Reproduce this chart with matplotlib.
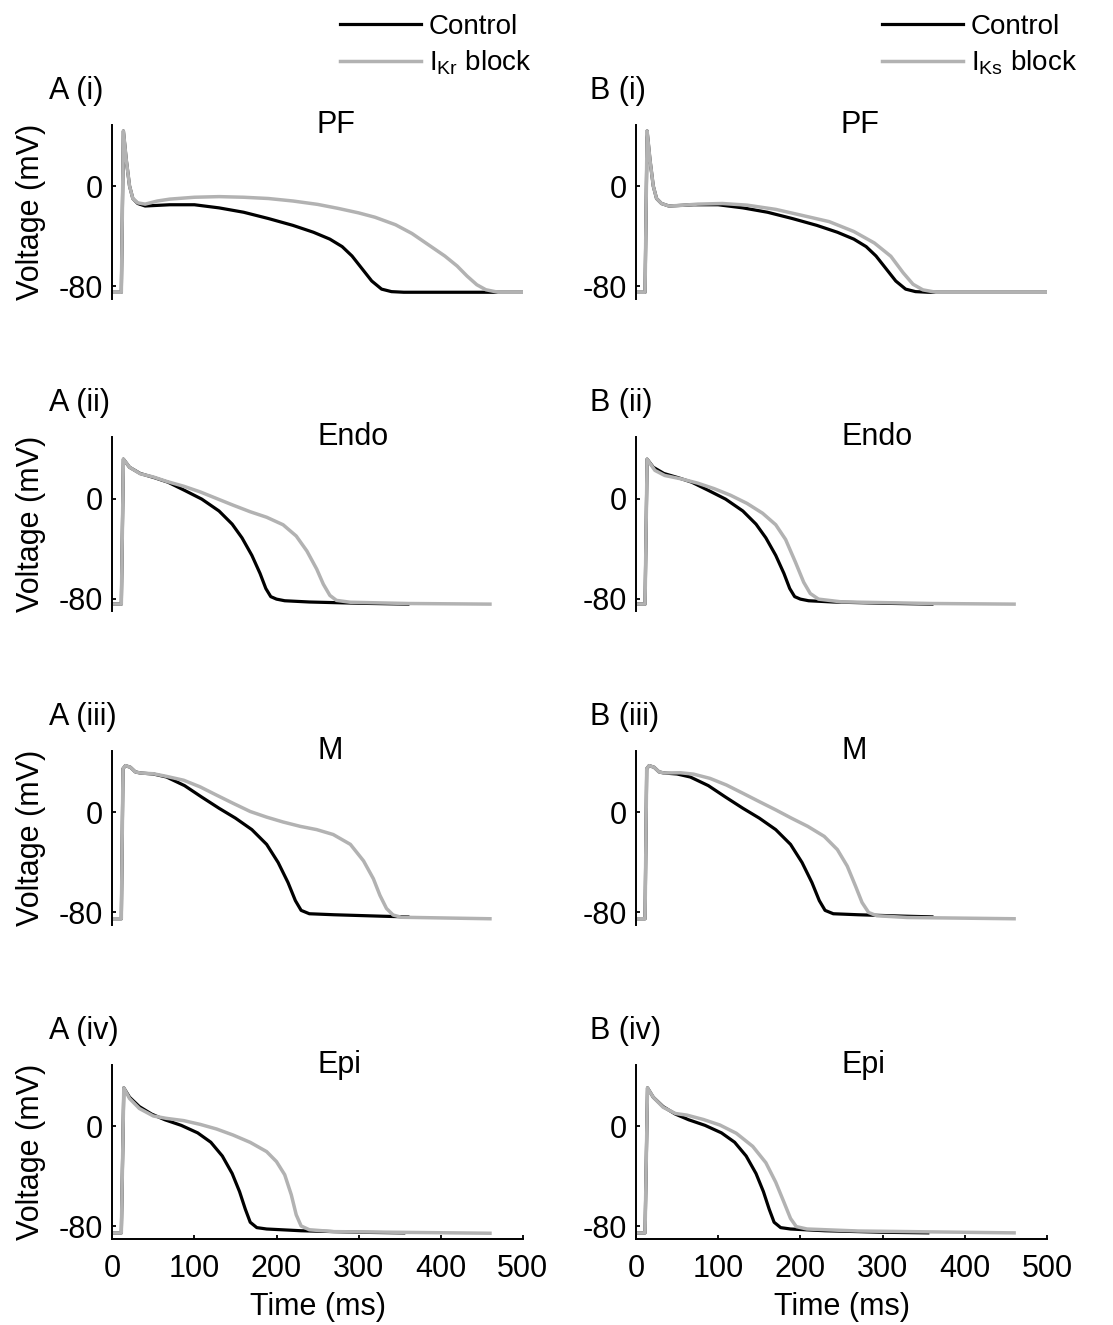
import matplotlib.pyplot as plt
from matplotlib.lines import Line2D

plt.rcParams['font.family'] = ['Liberation Sans', 'DejaVu Sans']
plt.rcParams['axes.unicode_minus'] = False
plt.rcParams['mathtext.fontset'] = 'custom'
plt.rcParams['mathtext.rm'] = 'Liberation Sans'

# action potentials: time (ms), voltage (mV)
pf_t = [0, 11, 13.5, 17, 21, 25, 31, 40, 55, 70, 100, 130, 160, 190, 220, 245, 265, 280, 292, 304, 316, 328, 340, 355, 500]
pf_v = [-85, -85, 44, 21, 0, -10, -14, -16, -15.5, -15, -15, -17.5, -21, -26, -31.5, -37, -42.5, -48.5, -56, -66, -76, -82.5, -84.5, -85, -85]
pf_ikr_t = [0, 11, 13.5, 17, 21, 25, 31, 40, 55, 70, 100, 130, 160, 190, 220, 250, 275, 300, 320, 345, 365, 385, 405, 420, 432, 444, 455, 470, 500]
pf_ikr_v = [-85, -85, 44, 21, 0, -10, -13.5, -14.5, -12, -10.5, -9, -8.5, -9, -10, -12, -14.7, -17.9, -21.5, -25, -31, -38, -47, -56, -64, -72, -79, -83, -85, -85]
pf_iks_t = [0, 11, 13.5, 17, 21, 25, 31, 40, 55, 75, 105, 135, 170, 200, 235, 265, 290, 310, 325, 337, 349, 365, 500]
pf_iks_v = [-85, -85, 44, 21, 0, -10, -14, -16, -15.5, -14.5, -14, -15.3, -18.7, -23.2, -28.5, -36.4, -45.6, -56.2, -69.4, -78.6, -83.1, -85, -85]

endo_t = [0, 11, 13.5, 21, 34, 52, 68, 88, 109, 130, 146, 158, 170, 180, 187, 193, 200, 210, 240, 300, 360]
endo_v = [-84.5, -84.5, 31.5, 25, 20, 16.5, 13, 6.5, -0.5, -10, -20.5, -31.5, -45.5, -60, -72, -78.5, -80.5, -81.8, -82.8, -83.8, -84.5]
endo_ikr_t = [0, 11, 13.5, 21, 34, 50, 66, 87, 107, 127, 147, 168, 188, 208, 224, 237, 249, 257, 265, 273, 290, 360, 460]
endo_ikr_v = [-84.5, -84.5, 31.5, 25, 19.8, 17.2, 13.7, 9.8, 5.3, 0, -5.3, -10.6, -15, -21, -30, -42, -56.5, -68.5, -77.5, -81.5, -83, -84, -84.5]
endo_iks_t = [0, 11, 13.5, 23, 35, 55, 75, 95, 115, 135, 154, 170, 182, 194, 204, 212, 222, 250, 360, 460]
endo_iks_v = [-84.5, -84.5, 31.5, 22.5, 18.4, 15.7, 12.3, 7.9, 2.6, -3.9, -11.8, -21, -32.8, -51, -67, -76, -80.5, -82.7, -84, -84.5]

m_t = [0, 11, 13, 16, 22, 28, 34, 50, 66, 88, 109, 130, 150, 170, 188, 202, 214, 223, 230, 240, 270, 330, 360]
m_v = [-85, -85, 35, 37.5, 36.2, 32.5, 31.6, 30.8, 28.4, 21.5, 12.3, 3.4, -4.5, -13.7, -25.5, -40, -56, -70.5, -78.3, -81, -81.8, -83, -83.5]
m_ikr_t = [0, 11, 13, 16, 22, 28, 34, 50, 66, 87, 107, 127, 147, 168, 188, 208, 229, 249, 269, 290, 306, 318, 326, 334, 342, 352, 460]
m_ikr_v = [-85, -85, 35, 37.5, 36.2, 32.5, 31.6, 31, 28.9, 25.8, 20.5, 13.9, 7.4, 0.8, -3.7, -7.6, -11.1, -13.7, -17.6, -25.5, -38.7, -53, -66.3, -76.8, -82, -83.8, -85]
m_iks_t = [0, 11, 13, 16, 22, 28, 34, 54, 70, 90, 110, 130, 150, 170, 189, 209, 229, 245, 257, 267, 275, 283, 293, 330, 460]
m_iks_v = [-85, -85, 35, 37.5, 36.2, 32.5, 31.6, 31.8, 30.7, 27.3, 22, 15.4, 8.7, 2.1, -4.5, -11.1, -19.1, -29.7, -42.9, -58.8, -72, -80, -82.6, -84, -85]

epi_t = [0, 11, 14, 21, 33, 48, 64, 84, 104, 120, 134, 146, 155, 162, 168, 176, 188, 230, 300, 355]
epi_v = [-85.5, -85.5, 30.5, 23, 15.5, 9.5, 5, 0.5, -5.5, -13, -24, -38, -52.5, -66.5, -77, -81.3, -82.4, -83.8, -85, -85.5]
epi_ikr_t = [0, 11, 14, 21, 33, 50, 66, 87, 107, 127, 147, 168, 188, 200, 210, 218, 224, 230, 240, 270, 460]
epi_ikr_v = [-85.5, -85.5, 30.5, 22, 14, 8, 6.1, 4.3, 1.3, -2.4, -7.2, -13.1, -20.5, -28.5, -39, -55, -71, -80, -83, -84.5, -85.8]
epi_iks_t = [0, 11, 14, 21, 33, 48, 62, 82, 102, 122, 142, 158, 170, 180, 188, 195, 208, 270, 460]
epi_iks_v = [-85.5, -85.5, 30.5, 23, 15, 10, 8.7, 5.2, 0.8, -5.8, -16.3, -29.4, -45, -61, -74, -80.5, -82.4, -84, -85.5]

cells = ['PF', 'Endo', 'M', 'Epi']
romans = ['i', 'ii', 'iii', 'iv']
control = [(pf_t, pf_v), (endo_t, endo_v), (m_t, m_v), (epi_t, epi_v)]
ikr = [(pf_ikr_t, pf_ikr_v), (endo_ikr_t, endo_ikr_v), (m_ikr_t, m_ikr_v), (epi_ikr_t, epi_ikr_v)]
iks = [(pf_iks_t, pf_iks_v), (endo_iks_t, endo_iks_v), (m_iks_t, m_iks_v), (epi_iks_t, epi_iks_v)]

gray = '#b2b2b2'
W, H = 1113, 1325
fs = 22
title_x = [0.545, 0.587, 0.53, 0.554]
zero_y = [186, 498.5, 812.5, 1126]

fig = plt.figure(figsize=(W / 100, H / 100), dpi=100)

columns = [('A', 112.3, 410.5, ikr, r'I$_{\mathregular{Kr}}$ block', 340),
           ('B', 636, 411, iks, r'I$_{\mathregular{Ks}}$ block', 882)]

for letter, x0, w, blocked, blabel, legx in columns:
    for row in range(4):
        top = zero_y[row] - 49 * 1.25
        bottom = zero_y[row] + 90 * 1.25
        ax = fig.add_axes([x0 / W, 1 - bottom / H, w / W, (bottom - top) / H])
        ct, cv = control[row]
        bt, bv = blocked[row]
        ax.plot(ct, cv, color='k', lw=2.3)
        ax.plot(bt, bv, color=gray, lw=2.5)
        ax.set_xlim(0, 500)
        ax.set_ylim(-90, 49)
        ax.set_yticks([0, -80])
        ax.spines['top'].set_visible(False)
        ax.spines['right'].set_visible(False)
        ax.spines['left'].set_linewidth(1.4)
        ax.spines['bottom'].set_linewidth(1.4)
        ax.tick_params(direction='in', length=3, width=1.3, labelsize=fs, pad=6.5)
        if row < 3:
            ax.spines['bottom'].set_visible(False)
            ax.set_xticks([])
        else:
            ax.set_xticks([0, 100, 200, 300, 400, 500])
            ax.tick_params(axis='x', pad=11)
            ax.set_xlabel('Time (ms)', fontsize=fs, labelpad=6)
        if letter == 'A':
            ax.set_ylabel('Voltage (mV)', fontsize=fs)
            ax.yaxis.set_label_coords(-0.162, 0.5)
        ax.text(title_x[row], 1.0, cells[row], transform=ax.transAxes,
                ha='center', va='center', fontsize=fs)
        ax.text(-0.155 if letter == 'A' else -0.112, 1.196, letter + ' (' + romans[row] + ')',
                transform=ax.transAxes, ha='left', va='center', fontsize=fs)
        if row == 0:
            handles = [Line2D([], [], color='k', lw=2.3), Line2D([], [], color=gray, lw=2.5)]
            ax.legend(handles, ['Control', blabel], loc='upper left',
                      bbox_to_anchor=(legx / W, 1 - 14 / H), bbox_transform=fig.transFigure,
                      frameon=False, fontsize=20, handlelength=2.9, handletextpad=0.3,
                      labelspacing=0.3, borderpad=0, borderaxespad=0)

fig.savefig('out.png', dpi=100)
